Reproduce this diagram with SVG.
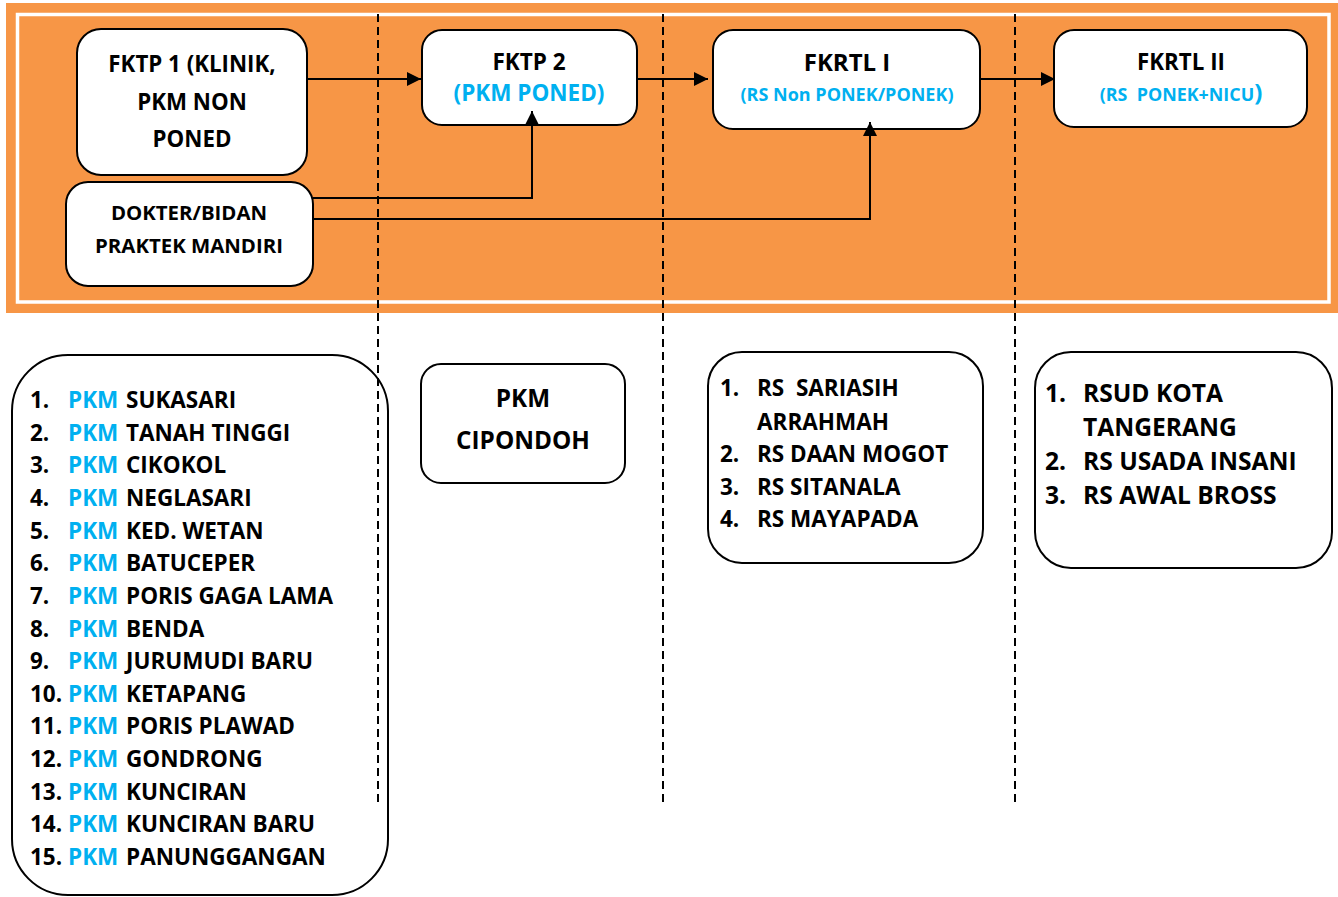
<svg xmlns="http://www.w3.org/2000/svg" width="1338" height="897" viewBox="0 0 1338 897">
<style>
text{font-family:"Open Sans","Liberation Sans",sans-serif;font-weight:bold;fill:#000}
.c{text-anchor:middle}
.b{fill:#00B0F0}
.box{fill:#fff;stroke:#000;stroke-width:2}
.con{fill:none;stroke:#000;stroke-width:2}
.dash{fill:none;stroke:#000;stroke-width:2;stroke-dasharray:8 5}
</style>
<defs>
<marker id="ah" viewBox="0 0 10 10" refX="10" refY="5" markerWidth="14" markerHeight="15" markerUnits="userSpaceOnUse" orient="auto">
<path d="M0,0 L10,5 L0,10 z" fill="#000"/>
</marker>
</defs>
<rect width="1338" height="897" fill="#fff"/>
<g id="frame">
<rect x="6" y="3" width="1332" height="310" fill="#F79646"/>
<rect x="17.5" y="14.5" width="1311.5" height="287.5" fill="none" stroke="#fff" stroke-width="3.5"/>
</g>
<g id="fktp1">
<rect class="box" x="77" y="29" width="230" height="146" rx="24"/>
<text class="c" x="192" y="72" font-size="22.3">FKTP 1 (KLINIK,</text>
<text class="c" x="192" y="110" font-size="22.3">PKM NON</text>
<text class="c" x="192" y="147" font-size="22.3">PONED</text>
</g>
<g id="fktp2">
<rect class="box" x="422" y="30" width="215" height="95" rx="20"/>
<text class="c" x="529" y="70" font-size="22.5">FKTP 2</text>
<text class="c b" x="529" y="101" font-size="22.5">(PKM PONED)</text>
</g>
<g id="fkrtl1">
<rect class="box" x="713" y="30" width="267" height="99" rx="20"/>
<text class="c" x="847" y="71" font-size="24">FKRTL I</text>
<text class="c b" x="847" y="101" font-size="18">(RS Non PONEK/PONEK)</text>
</g>
<g id="fkrtl2">
<rect class="box" x="1054" y="30" width="253" height="97" rx="20"/>
<text class="c" x="1181" y="70" font-size="22.3">FKRTL II</text>
<text class="c b" x="1181" y="101" font-size="17.9" xml:space="preserve">(RS  PONEK+NICU<tspan font-size="24">)</tspan></text>
</g>
<g id="dokter">
<rect class="box" x="66" y="182" width="247" height="104" rx="22"/>
<text class="c" x="189" y="220" font-size="20.4">DOKTER/BIDAN</text>
<text class="c" x="189" y="253" font-size="20.4">PRAKTEK MANDIRI</text>
</g>
<g id="connectors">
<path class="con" d="M307,79 H421" marker-end="url(#ah)"/>
<path class="con" d="M637,79 H708" marker-end="url(#ah)"/>
<path class="con" d="M980,79 H1055" marker-end="url(#ah)"/>
<path class="con" d="M313,198 H532 V111" marker-end="url(#ah)"/>
<path class="con" d="M313,219 H870 V122" marker-end="url(#ah)"/>
</g>
<g id="pkm-list">
<rect class="box" x="12" y="355" width="376" height="540" rx="56"/>
<g font-size="22.5">
<text y="408"><tspan x="30">1.</tspan><tspan x="68" class="b">PKM</tspan><tspan x="126">SUKASARI</tspan></text>
<text y="440.6"><tspan x="30">2.</tspan><tspan x="68" class="b">PKM</tspan><tspan x="126">TANAH TINGGI</tspan></text>
<text y="473.3"><tspan x="30">3.</tspan><tspan x="68" class="b">PKM</tspan><tspan x="126">CIKOKOL</tspan></text>
<text y="505.9"><tspan x="30">4.</tspan><tspan x="68" class="b">PKM</tspan><tspan x="126">NEGLASARI</tspan></text>
<text y="538.6"><tspan x="30">5.</tspan><tspan x="68" class="b">PKM</tspan><tspan x="126">KED. WETAN</tspan></text>
<text y="571.2"><tspan x="30">6.</tspan><tspan x="68" class="b">PKM</tspan><tspan x="126">BATUCEPER</tspan></text>
<text y="603.8"><tspan x="30">7.</tspan><tspan x="68" class="b">PKM</tspan><tspan x="126">PORIS GAGA LAMA</tspan></text>
<text y="636.5"><tspan x="30">8.</tspan><tspan x="68" class="b">PKM</tspan><tspan x="126">BENDA</tspan></text>
<text y="669.1"><tspan x="30">9.</tspan><tspan x="68" class="b">PKM</tspan><tspan x="126">JURUMUDI BARU</tspan></text>
<text y="701.8"><tspan x="30">10.</tspan><tspan x="68" class="b">PKM</tspan><tspan x="126">KETAPANG</tspan></text>
<text y="734.4"><tspan x="30">11.</tspan><tspan x="68" class="b">PKM</tspan><tspan x="126">PORIS PLAWAD</tspan></text>
<text y="767"><tspan x="30">12.</tspan><tspan x="68" class="b">PKM</tspan><tspan x="126">GONDRONG</tspan></text>
<text y="799.7"><tspan x="30">13.</tspan><tspan x="68" class="b">PKM</tspan><tspan x="126">KUNCIRAN</tspan></text>
<text y="832.3"><tspan x="30">14.</tspan><tspan x="68" class="b">PKM</tspan><tspan x="126">KUNCIRAN BARU</tspan></text>
<text y="865"><tspan x="30">15.</tspan><tspan x="68" class="b">PKM</tspan><tspan x="126">PANUNGGANGAN</tspan></text>
</g>
</g>
<g id="pkm-cipondoh">
<rect class="box" x="421" y="364" width="204" height="119" rx="20"/>
<text class="c" x="523" y="407" font-size="24.3">PKM</text>
<text class="c" x="523" y="449" font-size="24.3">CIPONDOH</text>
</g>
<g id="rs-list">
<rect class="box" x="708" y="352" width="275" height="211" rx="34"/>
<g font-size="22.5">
<text y="396" xml:space="preserve"><tspan x="720">1.</tspan><tspan x="757">RS  SARIASIH</tspan></text>
<text x="757" y="430">ARRAHMAH</text>
<text y="462"><tspan x="720">2.</tspan><tspan x="757">RS DAAN MOGOT</tspan></text>
<text y="495"><tspan x="720">3.</tspan><tspan x="757">RS SITANALA</tspan></text>
<text y="527"><tspan x="720">4.</tspan><tspan x="757">RS MAYAPADA</tspan></text>
</g>
</g>
<g id="rsud-list">
<rect class="box" x="1035" y="352" width="297" height="216" rx="36"/>
<g font-size="24.6">
<text y="402"><tspan x="1045">1.</tspan><tspan x="1083">RSUD KOTA</tspan></text>
<text x="1083" y="436">TANGERANG</text>
<text y="470"><tspan x="1045">2.</tspan><tspan x="1083">RS USADA INSANI</tspan></text>
<text y="504"><tspan x="1045">3.</tspan><tspan x="1083">RS AWAL BROSS</tspan></text>
</g>
</g>
<g id="dividers">
<line class="dash" x1="378" y1="14" x2="378" y2="806"/>
<line class="dash" x1="663" y1="14" x2="663" y2="806"/>
<line class="dash" x1="1015" y1="14" x2="1015" y2="804"/>
</g>
</svg>
